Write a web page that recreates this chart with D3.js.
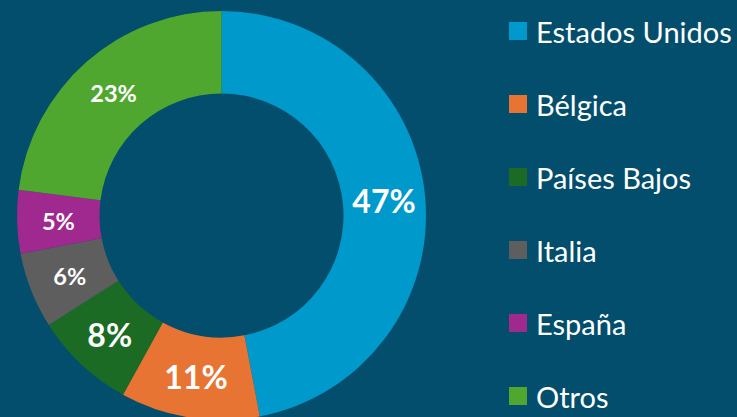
<!DOCTYPE html>
<html><head><meta charset="utf-8">
<script src="https://cdn.jsdelivr.net/npm/d3@7"></script>
<style>html,body{margin:0;padding:0;background:#034e6c;}svg{display:block;}</style>
</head><body>
<svg id="c" width="737" height="417"></svg>
<script>
const categories = ["Estados Unidos","Bélgica","Países Bajos","Italia","España","Otros"];
const values = [47, 11, 8, 6, 5, 23];
const labels = ["47%","11%","8%","6%","5%","23%"];
const colors = ["#0099cc","#e87433","#1b6b24","#5e5e5e","#a0298f","#4fa72f"];
const bigLabel = [true, true, true, false, false, false];

const svg = d3.select("#c");
const cx = 221.5, cy = 215.5, rOuter = 204.5, rInner = 122;
const data = categories.map((c,i)=>({cat:c, value:values[i], label:labels[i], color:colors[i], big:bigLabel[i]}));
const pie = d3.pie().value(d=>d.value).sort(null);
const arc = d3.arc().innerRadius(rInner).outerRadius(rOuter);
const g = svg.append("g").attr("transform",`translate(${cx},${cy})`);
const arcs = pie(data);
g.selectAll("path").data(arcs).join("path").attr("d",arc).attr("fill",d=>d.data.color);
g.selectAll("text").data(arcs).join("text")
  .attr("transform",d=>`translate(${arc.centroid(d)})`)
  .attr("text-anchor","middle").attr("dominant-baseline","central")
  .attr("font-family","Lato, 'Open Sans', sans-serif").attr("font-weight","bold")
  .attr("font-size",d=>d.data.big?32:23.5).attr("fill","#ffffff")
  .text(d=>d.data.label);

const leg = svg.append("g");
const ly = d3.scalePoint().domain(categories).range([31, 396]);
const items = leg.selectAll("g").data(data).join("g").attr("transform",d=>`translate(509,${ly(d.cat)})`);
items.append("rect").attr("x",0).attr("y",-9).attr("width",18).attr("height",18).attr("fill",d=>d.color);
items.append("text").attr("x",27).attr("y",0).attr("dominant-baseline","central")
  .attr("font-family","Lato, 'Open Sans', sans-serif").attr("font-size",29).attr("fill","#ffffff")
  .text(d=>d.cat);
</script>
</body></html>
